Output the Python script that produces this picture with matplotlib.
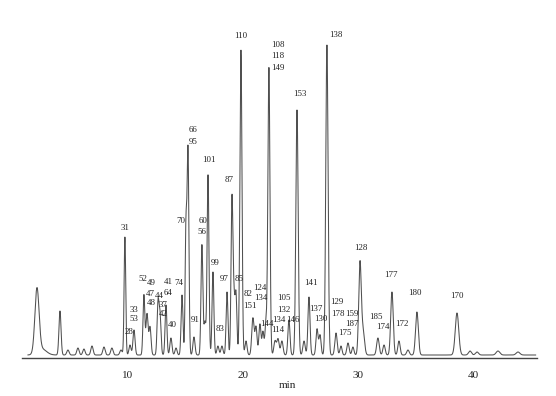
import numpy as np
import matplotlib
matplotlib.use("Agg")
import matplotlib.pyplot as plt

plt.rcParams['font.family'] = ['Liberation Serif', 'DejaVu Serif']

# peak retention times (min), peak heights (arb. units) and widths (sigma, min)
rt = [2.13, 2.55, 4.13, 4.82, 5.69, 6.21, 6.91, 7.95, 8.64, 9.43, 9.77, 10.21, 10.56,
      11.42, 11.69, 11.95, 12.64, 12.81, 13.34, 13.77, 14.21, 14.73, 15.07, 15.25,
      15.77, 16.46, 16.72, 16.99, 17.42, 17.85, 18.20, 18.64, 19.07, 19.24, 19.42,
      19.85, 20.29, 20.89, 21.16, 21.50, 21.76, 22.02, 22.28, 22.81, 23.07, 23.41,
      24.02, 24.72, 25.33, 25.76, 26.46, 26.72, 27.32, 28.11, 28.54, 29.15, 29.58,
      30.19, 30.45, 31.75, 32.28, 32.97, 33.58, 34.36, 35.14, 38.62, 39.75, 40.36,
      42.18, 43.92]
height = [64, 6, 44, 5, 7, 6, 9, 8, 7, 5, 118, 10, 25,
          60, 41, 28, 48, 41, 50, 17, 7, 60, 122, 205,
          18, 110, 33, 180, 83, 9, 9, 63, 155, 52, 60,
          305, 14, 37, 28, 31, 23, 31, 287, 14, 16, 14,
          35, 245, 14, 58, 26, 20, 310, 22, 9, 12, 8,
          91, 24, 17, 10, 63, 14, 5, 43, 42, 4, 3,
          4, 3]
width = [0.18, 0.4, 0.09, 0.1, 0.1, 0.1, 0.1, 0.1, 0.1, 0.1, 0.07, 0.09, 0.09,
         0.08, 0.09, 0.09, 0.08, 0.09, 0.08, 0.09, 0.09, 0.08, 0.07, 0.08,
         0.09, 0.08, 0.09, 0.08, 0.08, 0.09, 0.09, 0.08, 0.08, 0.08, 0.08,
         0.09, 0.09, 0.1, 0.09, 0.09, 0.08, 0.09, 0.09, 0.1, 0.1, 0.1,
         0.09, 0.1, 0.1, 0.09, 0.09, 0.09, 0.1, 0.1, 0.09, 0.1, 0.09,
         0.11, 0.13, 0.11, 0.1, 0.11, 0.1, 0.11, 0.12, 0.15, 0.13, 0.13,
         0.16, 0.16]
baseline = 3

# peak labels: text, time (min), height
lab_text = ['31', '28', '33', '53', '52', '49', '47', '44', '48', '41', '64', '37', '42',
            '40', '74', '70', '66', '95', '60', '56', '91', '101', '99', '97', '83', '87',
            '85', '110', '82', '151', '124', '134', '144', '108', '118', '149', '134',
            '114', '105', '132', '146', '153', '141', '137', '130', '138', '129', '178',
            '159', '187', '175', '128', '185', '174', '177', '172', '180', '170']
lab_t = [9.77, 10.12, 10.56, 10.56, 11.34, 12.03, 11.95, 12.75, 12.03, 13.51, 13.51, 13.08, 13.08,
         13.86, 14.47, 14.64, 15.68, 15.68, 16.55, 16.46, 15.86, 17.07, 17.59, 18.38, 18.03, 18.81,
         19.68, 19.85, 20.46, 20.63, 21.50, 21.59, 22.11, 23.07, 23.07, 23.07, 23.15,
         23.07, 23.59, 23.59, 24.37, 24.98, 25.93, 26.37, 26.80, 28.11, 28.19, 28.28,
         29.50, 29.50, 28.89, 30.28, 31.58, 32.19, 32.88, 33.84, 34.97, 38.62]
lab_h = [130, 26, 48, 39, 79, 75, 64, 62, 55, 76, 65, 53, 44,
         33, 75, 137, 228, 216, 137, 126, 38, 198, 95, 79, 29, 178,
         79, 322, 64, 52, 70, 60, 34, 313, 302, 290, 38,
         28, 60, 48, 38, 264, 75, 49, 39, 323, 56, 44,
         44, 34, 25, 110, 41, 31, 83, 34, 65, 62]

t = np.linspace(1.35, 45.45, 6000)
signal = np.full_like(t, baseline, dtype=float)
for r, h, w in zip(rt, height, width):
    signal += h * np.exp(-0.5 * ((t - r) / w) ** 2)

fig = plt.figure(figsize=(5.56, 3.96), dpi=100)
ax = fig.add_axes([22 / 556, 1 - 358 / 396, 515 / 556, 358 / 396])
ax.plot(t, signal, color='#505050', lw=0.75)

for s, x, y in zip(lab_text, lab_t, lab_h):
    ax.text(x, y, s, fontsize=6.4, ha='center', va='center', color='#222222')

ax.set_xlim(0.83, 45.57)
ax.set_ylim(0, 358)
ax.set_xticks([10, 20, 30, 40])
ax.set_yticks([])
ax.tick_params(axis='x', length=0, pad=9, labelsize=8, labelcolor='#222222')
for side in ['top', 'left', 'right']:
    ax.spines[side].set_visible(False)
ax.spines['bottom'].set_color('#444444')
ax.spines['bottom'].set_linewidth(1.0)
fig.text(287 / 556, 1 - 386 / 396, 'min', fontsize=8, ha='center', va='center', color='#222222')

fig.savefig('out.png', dpi=100)
